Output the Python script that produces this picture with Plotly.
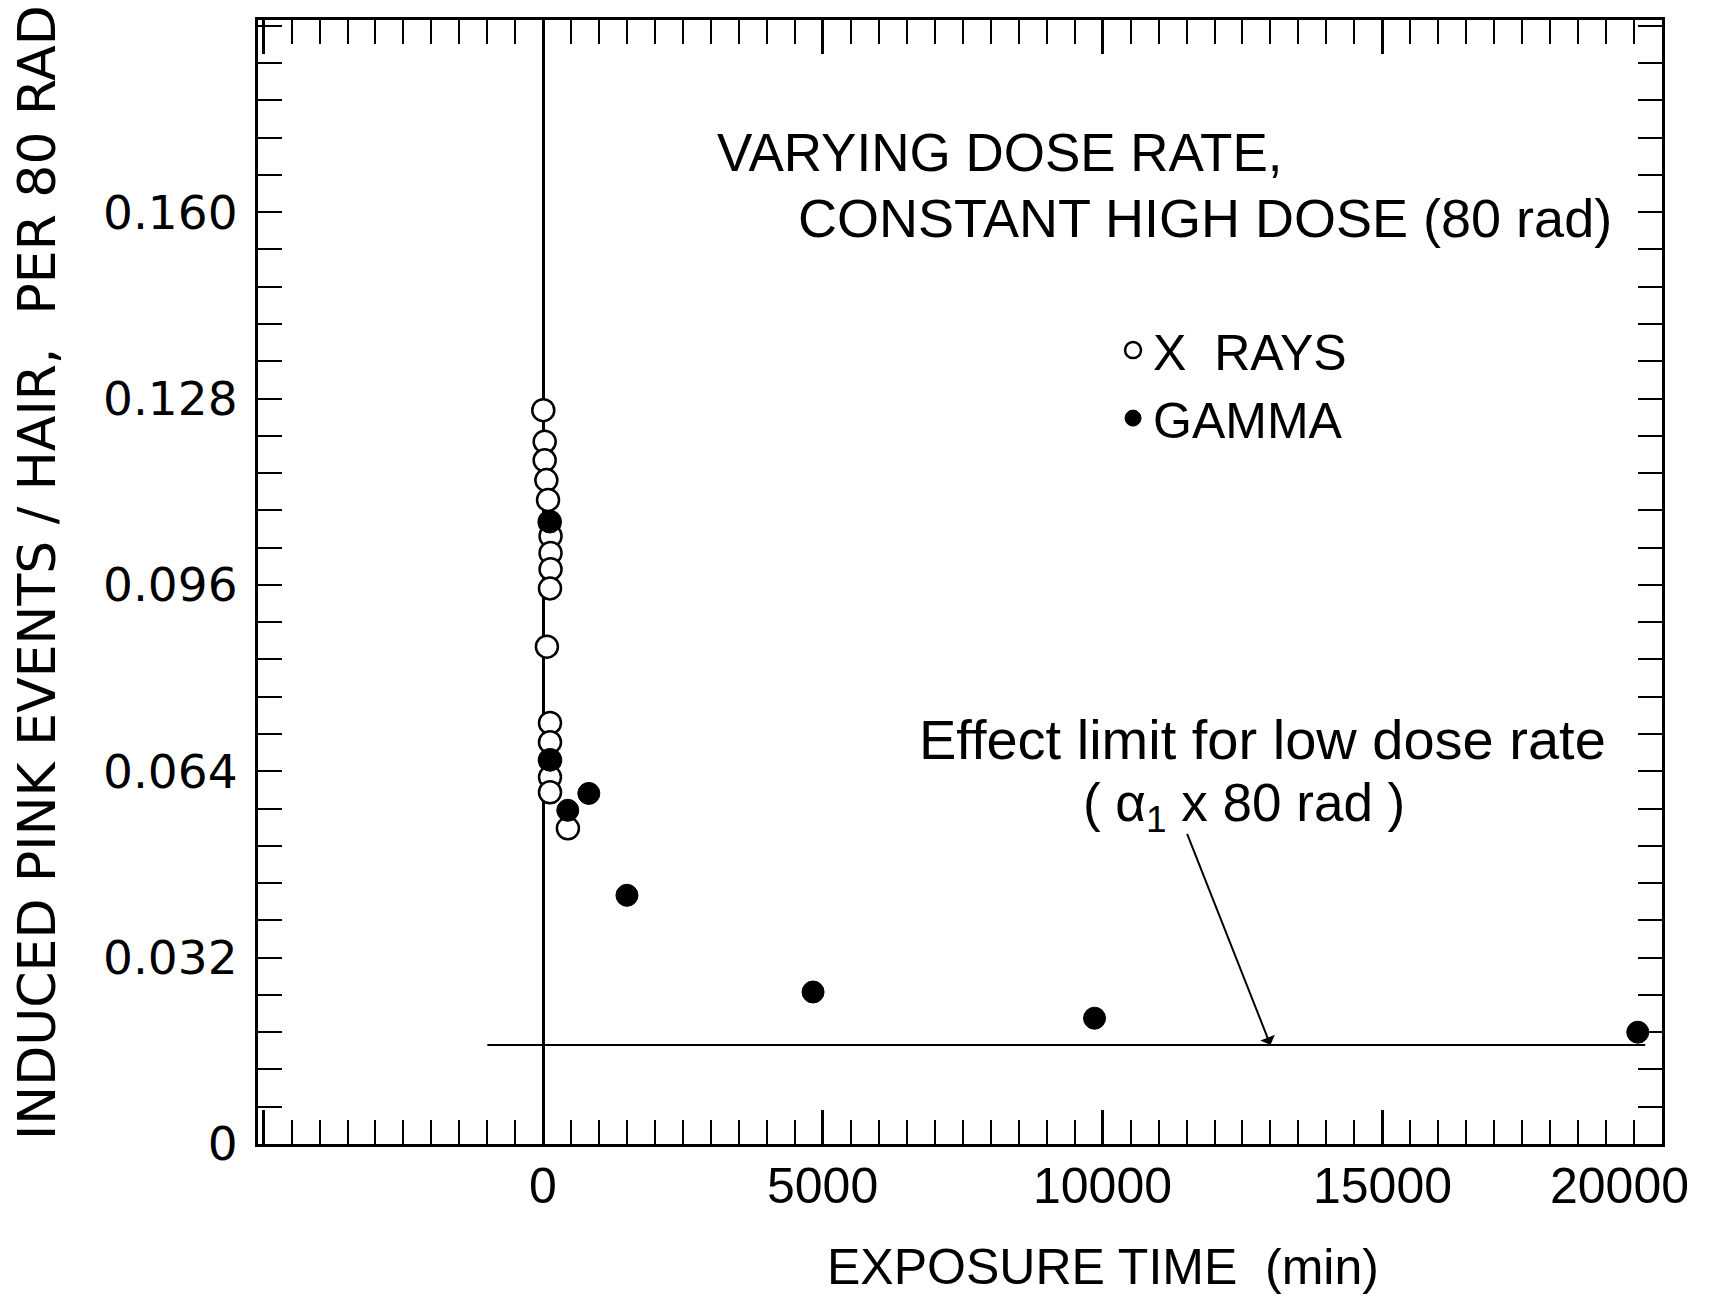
import plotly.graph_objects as go

# ---------------- data ----------------
xray_time = [0, 25, 25, 55, 85, 115, 130, 130, 130, 120, 65, 120, 120, 120, 120, 120, 440]
xray_events = [0.1260, 0.1206, 0.1174, 0.1140, 0.1106, 0.1068, 0.1044, 0.1015, 0.0987,
               0.0954, 0.0854, 0.0723, 0.0690, 0.0659, 0.0630, 0.0604, 0.0542]

gamma_time = [116, 120, 438, 814, 1496, 4823, 9855, 19567]
gamma_events = [0.1068, 0.0659, 0.0573, 0.0602, 0.0427, 0.0261, 0.0216, 0.0192]

limit_time = [-1000, 19700]
limit_events = [0.017, 0.017]

x_tick_vals = [0, 5000, 10000, 15000, 20000]
x_tick_text = ["0", "5000", "10000", "15000", "20000"]
y_tick_vals = [0, 0.032, 0.064, 0.096, 0.128, 0.160]
y_tick_text = ["0", "0.032", "0.064", "0.096", "0.128", "0.160"]

TXT = "Liberation Sans"
AX = "DejaVu Sans"

fig = go.Figure()

fig.add_trace(go.Scatter(
    x=limit_time, y=limit_events, mode="lines",
    line=dict(color="black", width=2), showlegend=False, hoverinfo="skip"))

fig.add_trace(go.Scatter(
    x=xray_time, y=xray_events, mode="markers", name="X\u00a0\u00a0RAYS",
    marker=dict(symbol="circle", size=22, color="white",
                line=dict(color="black", width=2.5))))

fig.add_trace(go.Scatter(
    x=gamma_time, y=gamma_events, mode="markers", name="GAMMA",
    marker=dict(symbol="circle", size=22, color="black",
                line=dict(color="black", width=1))))

annotations = []
# x tick labels
for v, t in zip(x_tick_vals, x_tick_text):
    last = v == x_tick_vals[-1]
    annotations.append(dict(
        x=v, y=0, xref="x", yref="paper", text=t, showarrow=False,
        xanchor="right" if last else "center", yanchor="middle",
        xshift=29 if last else 0, yshift=-42,
        font=dict(family=TXT, size=50, color="black")))

# axis titles
annotations.append(dict(
    x=10000, y=-0.109, xref="x", yref="paper", text="EXPOSURE TIME\u00a0\u00a0(min)",
    showarrow=False, xanchor="center", yanchor="middle",
    font=dict(family=TXT, size=50, color="black")))
annotations.append(dict(
    x=-0.1575, y=0.5087, xref="paper", yref="paper",
    text="INDUCED PINK EVENTS / HAIR,\u00a0\u00a0PER 80 RAD",
    textangle=-90, showarrow=False, xanchor="center", yanchor="middle",
    font=dict(family=AX, size=52, color="black")))

# in-plot texts
annotations.append(dict(
    x=3068, y=0.1703, xref="x", yref="y", text="VARYING DOSE RATE,",
    showarrow=False, xanchor="left", yanchor="middle",
    font=dict(family=TXT, size=53, color="black")))
annotations.append(dict(
    x=4517, y=0.159, xref="x", yref="y", text="CONSTANT HIGH DOSE (80 rad)",
    showarrow=False, xanchor="left", yanchor="middle",
    font=dict(family=TXT, size=54, color="black")))
annotations.append(dict(
    x=6682, y=0.0695, xref="x", yref="y", text="Effect limit for low dose rate",
    showarrow=False, xanchor="left", yanchor="middle",
    font=dict(family=TXT, size=56, color="black")))
annotations.append(dict(
    x=9616, y=0.058, xref="x", yref="y", text="( α<sub>1</sub> x 80 rad )",
    showarrow=False, xanchor="left", yanchor="middle",
    font=dict(family=TXT, size=53, color="black")))
# arrow
annotations.append(dict(
    x=13000, y=0.017, xref="x", yref="y", ax=11500, ay=0.0535, axref="x", ayref="y",
    text="", showarrow=True, arrowhead=1, arrowsize=1.3, arrowwidth=2,
    arrowcolor="black", standoff=0))

fig.update_layout(
    width=1716, height=1296,
    margin=dict(l=258, r=54, t=20, b=152),
    paper_bgcolor="white", plot_bgcolor="white",
    annotations=annotations,
    showlegend=True,
    legend=dict(x=0.609, y=0.741, xanchor="left", yanchor="top",
                bgcolor="rgba(0,0,0,0)", itemsizing="trace",
                font=dict(family=TXT, size=50, color="black")),
    xaxis=dict(range=[-5100, 20000], showline=True, linewidth=3, linecolor="black",
               mirror="allticks", ticks="inside", ticklen=34, tickwidth=2.5,
               tickcolor="black", tick0=0, dtick=5000, showticklabels=False,
               showgrid=False, zeroline=True, zerolinecolor="black", zerolinewidth=3,
               minor=dict(ticks="inside", tick0=0, dtick=500, ticklen=24,
                          tickwidth=2, tickcolor="black", showgrid=False)),
    yaxis=dict(range=[0, 0.193], showline=True, linewidth=3, linecolor="black",
               mirror="allticks", ticks="inside", ticklen=24, tickwidth=2,
               tickcolor="black", tickvals=y_tick_vals, ticktext=y_tick_text,
               tickfont=dict(family=AX, size=47, color="black"),
               ticklabelstandoff=8, showgrid=False, zeroline=False,
               minor=dict(ticks="inside", tick0=0, dtick=0.0064, ticklen=24,
                          tickwidth=2, tickcolor="black", showgrid=False)),
)

fig.write_html("out.html")
